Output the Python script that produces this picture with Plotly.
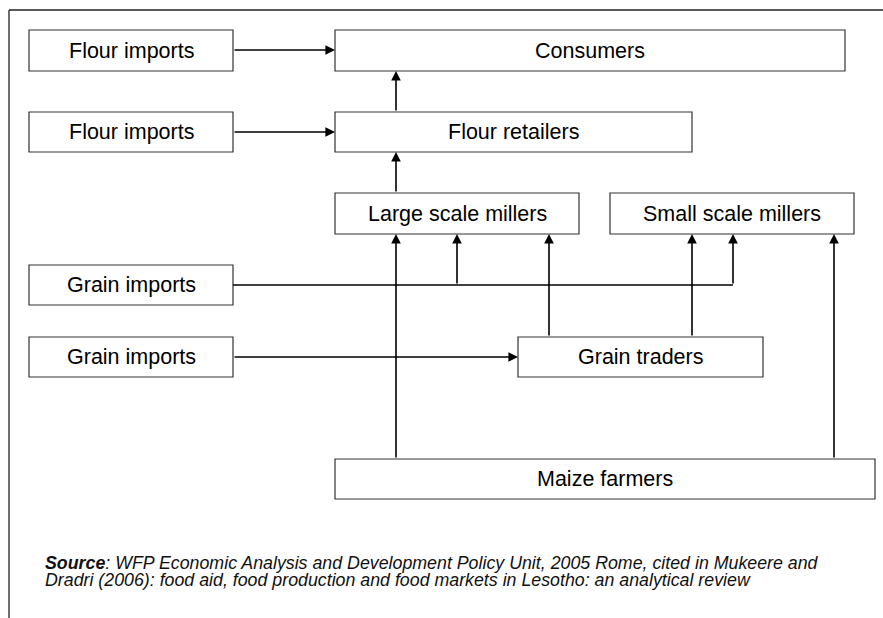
import plotly.graph_objects as go

# Nodes of the flow diagram (pixel-space layout coordinates)
node_labels = ["Flour imports", "Consumers", "Flour imports", "Flour retailers",
               "Large scale millers", "Small scale millers", "Grain imports",
               "Grain imports", "Grain traders", "Maize farmers"]
node_x0 = [29, 335, 29, 335, 335, 610, 29, 29, 518, 335]
node_x1 = [233, 845, 233, 692, 579, 854, 233, 233, 763, 875]
node_y0 = [30, 30, 112, 112, 193, 193, 265, 337, 337, 459]
node_y1 = [71, 71, 152, 152, 234, 234, 305, 377, 377, 499]

# Arrows (tail x, tail y, head x, head y)
arrow_x0 = [233, 396, 233, 396, 457, 733, 549, 692, 233, 396, 834]
arrow_y0 = [50, 112, 132, 193, 285, 285, 337, 337, 357, 459, 459]
arrow_x1 = [335, 396, 335, 396, 457, 733, 549, 692, 518, 396, 834]
arrow_y1 = [50, 71, 132, 152, 234, 234, 234, 234, 357, 234, 234]

# Plain connector lines (no heads)
line_x0 = [233]
line_y0 = [285]
line_x1 = [733]
line_y1 = [285]

source_line1 = "<b><i>Source</i></b><i>: WFP Economic Analysis and Development Policy Unit, 2005 Rome, cited in Mukeere and</i>"
source_line2 = "<i>Dradri (2006): food aid, food production and food markets in Lesotho: an analytical review</i>"

W, H = 883, 618
FONT = "Liberation Sans, Arial, sans-serif"

fig = go.Figure()
fig.add_trace(go.Scatter(x=[0, W], y=[0, H], mode="markers",
                         marker=dict(opacity=0), hoverinfo="skip", showlegend=False))

shapes = []
# outer frame: left and top edges
shapes.append(dict(type="line", x0=9, y0=10, x1=9, y1=H, line=dict(color="#222", width=1.3)))
shapes.append(dict(type="line", x0=9, y0=10, x1=W, y1=10, line=dict(color="#222", width=1.3)))

annotations = []
for lab, a, b, c, d in zip(node_labels, node_x0, node_x1, node_y0, node_y1):
    shapes.append(dict(type="rect", x0=a, x1=b, y0=c, y1=d,
                       line=dict(color="#333", width=1.2), fillcolor="white"))
    annotations.append(dict(x=(a + b) / 2, y=(c + d) / 2, text=lab, showarrow=False,
                            xanchor="center", yanchor="middle",
                            font=dict(family=FONT, size=21.5, color="black")))

for a, b, c, d in zip(line_x0, line_y0, line_x1, line_y1):
    shapes.append(dict(type="line", x0=a, y0=b, x1=c, y1=d, line=dict(color="black", width=1.6)))

for a, b, c, d in zip(arrow_x0, arrow_y0, arrow_x1, arrow_y1):
    annotations.append(dict(x=c, y=d, ax=a, ay=b, xref="x", yref="y", axref="x", ayref="y",
                            text="", showarrow=True, arrowhead=2, arrowsize=1.2,
                            arrowwidth=1.6, arrowcolor="black", standoff=0, startstandoff=0))

annotations.append(dict(x=43, y=563, text=source_line1, showarrow=False, xanchor="left",
                        yanchor="middle", font=dict(family=FONT, size=17.8, color="#111")))
annotations.append(dict(x=43, y=580, text=source_line2, showarrow=False, xanchor="left",
                        yanchor="middle", font=dict(family=FONT, size=17.8, color="#111")))

fig.update_layout(
    width=W, height=H, margin=dict(l=0, r=0, t=0, b=0),
    paper_bgcolor="white", plot_bgcolor="white",
    xaxis=dict(range=[0, W], visible=False, fixedrange=True),
    yaxis=dict(range=[H, 0], visible=False, fixedrange=True),
    shapes=shapes, annotations=annotations, showlegend=False,
)
fig.write_html("out.html", config={"displayModeBar": False},
               post_script="document.body.style.margin='0';document.body.style.overflow='hidden';")
